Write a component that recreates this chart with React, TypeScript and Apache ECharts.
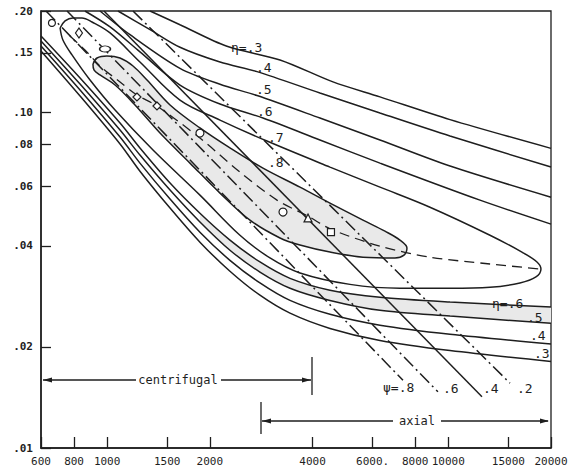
import React, { useEffect, useRef } from 'react';
import * as echarts from 'echarts';

// ---- axes ----
const X_MIN = 640; // drawn origin of the hand-drawn axis (labelled 600)
const X_MAX = 20000;
const Y_MIN = 0.01;
const Y_MAX = 0.2;
const xTickValues = [600, 800, 1000, 1500, 2000, 4000, 6000, 8000, 10000, 15000, 20000];
const xTickLabels = ['600', '800', '1000', '1500', '2000', '4000', '6000.', '8000', '10000', '15000', '20000'];
const yTickValues = [0.01, 0.02, 0.04, 0.06, 0.08, 0.1, 0.15, 0.2];
const yTickLabels = ['.01', '.02', '.04', '.06', '.08', '.10', '.15', '.20'];

// ---- efficiency contours, upper branches ----
const eta3Upper = [[1336, 0.2], [1635, 0.182], [2245, 0.157], [3212, 0.143], [4592, 0.123], [6305, 0.111], [10116, 0.095], [20000, 0.078]];
const eta4Upper = [[1076, 0.2], [1336, 0.176], [1635, 0.156], [2142, 0.141], [2750, 0.132], [4205, 0.114], [6305, 0.0994], [10116, 0.0849], [20000, 0.0686]];
const eta5Upper = [[953, 0.2], [1167, 0.17], [1635, 0.135], [2142, 0.121], [2750, 0.112], [4205, 0.096], [6305, 0.0826], [10116, 0.0691], [20000, 0.0558]];
const eta6Upper = [[861, 0.2], [1020, 0.1793], [1248, 0.1511], [1635, 0.1204], [2142, 0.1057], [2863, 0.096], [4205, 0.0826], [6305, 0.0705], [12384, 0.0547], [20000, 0.0464]];

// ---- efficiency contours, lower branches ----
const lowerX = [640, 833, 1091, 1248, 1529, 1871, 2291, 2805, 3436, 4500, 6305, 10116, 20000];
const eta6LowerY = [0.1686, 0.1264, 0.0928, 0.0782, 0.0615, 0.05, 0.0416, 0.0358, 0.032, 0.0295, 0.0281, 0.0272, 0.0263];
const eta5LowerY = [0.1629, 0.1212, 0.0884, 0.0745, 0.0586, 0.0471, 0.0388, 0.0334, 0.0299, 0.0275, 0.0257, 0.0247, 0.0235];
const eta4LowerY = [0.1574, 0.1164, 0.0843, 0.0705, 0.0551, 0.0439, 0.0362, 0.031, 0.0275, 0.025, 0.0232, 0.0218, 0.0204];
const eta3LowerY = [0.1521, 0.1117, 0.0804, 0.0667, 0.0518, 0.041, 0.0336, 0.0285, 0.0252, 0.0227, 0.0209, 0.0195, 0.0181];

// ---- closed contours ----
const eta7Loop = [
  [728, 0.178], [753, 0.1868], [794, 0.1907], [844, 0.1907], [903, 0.1855], [1020, 0.1721], [1248, 0.141],
  [1635, 0.1086], [2142, 0.0947], [2941, 0.082], [4500, 0.0686], [6305, 0.0598], [8836, 0.0521], [13248, 0.043],
  [16436, 0.0383], [18195, 0.0358], [18689, 0.0341], [18066, 0.0323], [16218, 0.031], [13248, 0.0301],
  [10116, 0.0299], [7215, 0.0299], [5150, 0.0307], [3675, 0.0332], [3001, 0.0368], [2451, 0.043],
  [1871, 0.0566], [1363, 0.0771], [1055, 0.1014], [891, 0.1246], [789, 0.148], [742, 0.164], [728, 0.178],
];
const eta8Loop = [
  [909, 0.1391], [934, 0.1449], [999, 0.1469], [1091, 0.1449], [1191, 0.1372], [1309, 0.1246], [1529, 0.105],
  [1871, 0.0897], [2291, 0.0782], [2863, 0.0681], [3675, 0.0598], [4500, 0.0536], [5623, 0.0477], [6522, 0.0442],
  [7215, 0.0416], [7565, 0.0394], [7414, 0.0375], [6977, 0.0368], [5623, 0.037], [4500, 0.0383], [3675, 0.0402],
  [3212, 0.0422], [2622, 0.0477], [2142, 0.0574], [1749, 0.0705], [1429, 0.0866], [1207, 0.105], [1055, 0.1204],
  [953, 0.129], [915, 0.1335], [909, 0.1391],
];

// ---- best-efficiency ridge (dashed) ----
const ridge = [[778, 0.1686], [861, 0.1531], [953, 0.1372], [1091, 0.1229], [1223, 0.1125], [1400, 0.1043], [1871, 0.0837], [2451, 0.0663], [3147, 0.0547], [3880, 0.049], [4530, 0.0448], [6305, 0.0399], [8836, 0.037], [13248, 0.0353], [18689, 0.0341]];

// ---- pressure-coefficient lines ψ ----
const psi8 = [[662, 0.2], [7365, 0.0159]];
const psi6 = [[763, 0.2], [9325, 0.0147]];
const psi4 = [[979, 0.2], [12552, 0.0142]];
const psi2 = [[1191, 0.2], [15161, 0.0156]];

// ---- test points ----
const markerX = [689, 827, 986, 1223, 1400, 1871, 3277, 3880, 4530];
const markerY = [0.1843, 0.1721, 0.1542, 0.1109, 0.1043, 0.0866, 0.0504, 0.0484, 0.0439];
const markerShape = ['circle', 'diamond', 'circle', 'diamond', 'diamond', 'circle', 'circle', 'triangle', 'rect'];

export default function App() {
  const ref = useRef<HTMLDivElement>(null);
  useEffect(() => {
    const chart = echarts.init(ref.current as HTMLDivElement, null, { renderer: 'svg' });
    const ink = '#1e1e1e';
    const mono = '"DejaVu Sans Mono", "Liberation Mono", monospace';
    const zip = (xs: number[], ys: number[]) => xs.map((x, i) => [x, ys[i]]);
    const xCustom = xTickValues.map(v => Math.max(v, X_MIN));
    const nearest = (arr: number[], v: number) => {
      let best = 0;
      arr.forEach((a, i) => { if (Math.abs(Math.log(a / v)) < Math.abs(Math.log(arr[best] / v))) best = i; });
      return best;
    };
    const line = (data: number[][], extra: any = {}, smooth: number = 0.3) => ({
      type: 'line', data, symbol: 'none', smooth, silent: true, z: 3,
      lineStyle: { color: ink, width: 1.5, ...extra },
    });
    const fill = (pts: number[][], color: string) => ({
      type: 'custom', coordinateSystem: 'cartesian2d', data: [[1000, 0.05]], silent: true, z: 1,
      renderItem: (_p: any, api: any) => ({
        type: 'polygon',
        shape: { points: pts.map(p => api.coord(p)) },
        style: { fill: color, stroke: 'none' },
      }),
    });
    const e6L = zip(lowerX, eta6LowerY);
    const e5L = zip(lowerX, eta5LowerY);
    const band = [...e6L.slice(5), ...e5L.slice(5).reverse()];
    const dashDot = { type: [13, 4, 2, 4] };

    const sizes: any[] = [7, [7, 10], [11, 6], 8, 8, 8, 8, 8, 7];
    const scatterData = markerX.map((x, i) => ({
      value: [x, markerY[i]],
      symbol: markerShape[i],
      symbolSize: sizes[i],
    }));

    const txt = (x: number, y: number, text: string, size = 13, align = 'left') => ({
      type: 'text', x, y, z: 20,
      style: { text, fontSize: size, fontFamily: mono, fill: ink, align, verticalAlign: 'middle' },
    });
    const seg = (x1: number, y1: number, x2: number, y2: number) => ({
      type: 'line', z: 20, shape: { x1, y1, x2, y2 }, style: { stroke: ink, lineWidth: 1.3 },
    });
    const head = (x: number, y: number, dir: number) => ({
      type: 'polygon', z: 20,
      shape: { points: [[x, y], [x - dir * 9, y - 2.5], [x - dir * 9, y + 2.5]] },
      style: { fill: ink },
    });

    chart.setOption({
      animation: false,
      backgroundColor: '#ffffff',
      grid: { left: 41, right: 22, top: 11, bottom: 23, show: true, borderColor: ink, borderWidth: 1.3, backgroundColor: 'transparent' },
      xAxis: {
        type: 'log', min: X_MIN, max: X_MAX, logBase: 10,
        axisLine: { show: true, lineStyle: { color: ink, width: 1.5 } },
        axisTick: { show: true, inside: true, length: 11, customValues: xCustom, lineStyle: { color: ink, width: 1.3 } },
        axisLabel: {
          customValues: xCustom, margin: 8, color: ink, fontSize: 11, fontFamily: mono,
          formatter: (v: number) => xTickLabels[nearest(xCustom, v)],
        },
        splitLine: { show: false },
      },
      yAxis: {
        type: 'log', min: Y_MIN, max: Y_MAX, logBase: 10,
        axisLine: { show: true, lineStyle: { color: ink, width: 1.5 } },
        axisTick: { show: true, inside: true, length: 10, customValues: yTickValues, lineStyle: { color: ink, width: 1.3 } },
        axisLabel: {
          customValues: yTickValues, margin: 8, color: ink, fontSize: 11, fontWeight: 'bold', fontFamily: mono,
          formatter: (v: number) => yTickLabels[nearest(yTickValues, v)],
        },
        splitLine: { show: false },
      },
      series: [
        fill(eta8Loop, '#e9e9e9'),
        fill(band, '#e9e9e9'),
        line(eta3Upper), line(eta4Upper), line(eta5Upper), line(eta6Upper),
        line(zip(lowerX, eta3LowerY)), line(zip(lowerX, eta4LowerY)), line(e5L), line(e6L),
        line(eta7Loop, {}, 0.35), line(eta8Loop, {}, 0.35),
        line(ridge, { type: [10, 6], width: 1.3 }, 0.3),
        line(psi8, dashDot, 0), line(psi6, dashDot, 0), line(psi4, {}, 0), line(psi2, dashDot, 0),
        {
          type: 'scatter', data: scatterData, silent: true, z: 6,
          itemStyle: { color: '#ffffff', borderColor: ink, borderWidth: 1.2, opacity: 1 },
        },
      ],
      graphic: [
        txt(231, 47, 'η=.3'), txt(256, 67, '.4'), txt(256, 89, '.5'), txt(257, 111, '.6'),
        txt(268, 137, '.7'), txt(268, 162, '.8'),
        txt(492, 303, 'η=.6'), txt(527, 317, '.5'), txt(530, 335, '.4'), txt(534, 353, '.3'),
        txt(383, 387, 'ψ=.8'), txt(443, 388, '.6'), txt(483, 388, '.4'), txt(517, 388, '.2'),
        // centrifugal range arrow
        seg(43, 380, 136, 380), seg(221, 380, 311, 380), head(43, 380, -1), head(311, 380, 1),
        seg(312, 357, 312, 395), txt(178, 380, 'centrifugal', 12, 'center'),
        // axial range arrow
        seg(261, 402, 261, 434), seg(262, 421, 393, 421), seg(441, 421, 548, 421),
        head(262, 421, -1), head(549, 421, 1), txt(417, 421, 'axial', 12, 'center'),
      ],
    });
    return () => chart.dispose();
  }, []);
  return <div ref={ref} style={{ position: 'fixed', left: 0, top: 0, width: 573, height: 471, background: '#fff' }} />;
}
